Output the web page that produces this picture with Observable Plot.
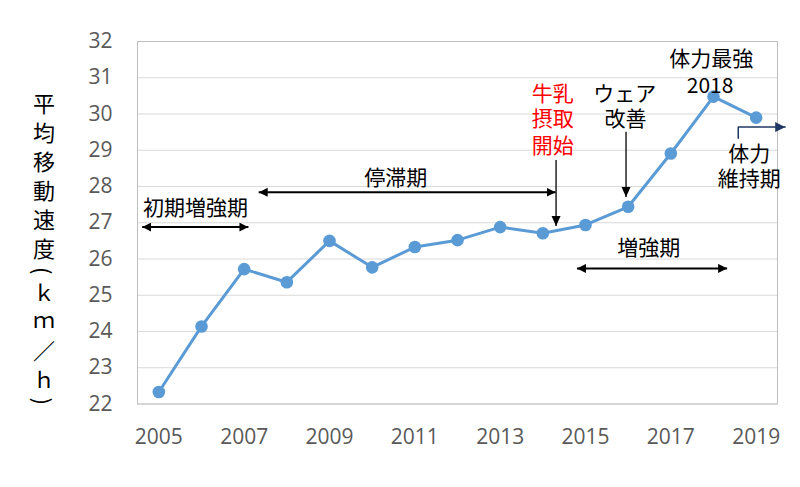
<!DOCTYPE html>
<html><head><meta charset="utf-8">
<script src="https://cdn.jsdelivr.net/npm/d3@7"></script>
<script src="https://cdn.jsdelivr.net/npm/@observablehq/plot@0.6"></script>
<style>
body{margin:0;background:#fff}
#wrap{position:relative;width:800px;height:487px}
#ytitle{position:absolute;left:33px;top:93px;writing-mode:vertical-rl;font-family:"Noto Sans CJK JP",sans-serif;font-size:22px;line-height:22px;letter-spacing:7px;color:#000}
</style></head><body>
<div id="wrap"><div id="ytitle">平均移動速度(ｋｍ／ｈ)</div></div>
<script>
const years = [2005,2006,2007,2008,2009,2010,2011,2012,2013,2014,2015,2016,2017,2018,2019];
const speeds = [22.33,24.14,25.72,25.36,26.5,25.77,26.33,26.52,26.88,26.71,26.94,27.44,28.91,30.48,29.9];
const yTicks = [22,23,24,25,26,27,28,29,30,31,32];
const xTicks = [2005,2007,2009,2011,2013,2015,2017,2019];

const labelTexts = ["初期増強期","停滞期","牛乳","摂取","開始","ウェア","改善","体力最強","2018","体力","維持期","増強期"];
const labelX = [2005.86,2010.55,2014.23,2014.23,2014.23,2015.92,2015.94,2017.95,2017.92,2018.84,2018.84,2016.48];
const labelY = [27.41,28.22,30.55,29.86,29.11,30.55,29.86,31.52,30.76,28.89,28.2,26.3];
const labelColors = ["#000","#000","#ff0000","#ff0000","#ff0000","#000","#000","#000","#000","#000","#000","#000"];

const spanX1 = [2004.61,2007.34,2014.8];
const spanX2 = [2007.1,2014.3,2018.32];
const spanY = [26.88,27.84,25.74];

const downX = [2014.31,2015.95];
const downY1 = [28.73,29.51];
const downY2 = [26.91,27.71];

const elbowX = [2018.58,2018.58,2019.68];
const elbowY = [29.33,29.64,29.64];

const points = years.map((y,i)=>({year:y, speed:speeds[i]}));
const labels = labelTexts.map((t,i)=>({t, x:labelX[i], y:labelY[i], c:labelColors[i]}));
const spans = spanX1.map((x,i)=>({x1:x, x2:spanX2[i], y:spanY[i]}));
const downs = downX.map((x,i)=>({x, y1:downY1[i], y2:downY2[i]}));
const elbow = elbowX.map((x,i)=>({x, y:elbowY[i]}));

function tri(reverse, len, hw){
  return (color) => {
    const ns = "http://www.w3.org/2000/svg";
    const m = document.createElementNS(ns,"marker");
    m.setAttribute("viewBox", `${-len} ${-len/2} ${len} ${len}`);
    m.setAttribute("markerUnits","userSpaceOnUse");
    m.setAttribute("markerWidth", len);
    m.setAttribute("markerHeight", len);
    m.setAttribute("refX", 0);
    m.setAttribute("refY", 0);
    m.setAttribute("orient", reverse ? "auto-start-reverse" : "auto");
    m.setAttribute("fill", color);
    m.setAttribute("stroke", "none");
    const p = document.createElementNS(ns,"path");
    p.setAttribute("d", `M${-len},${-hw}L0,0L${-len},${hw}Z`);
    m.appendChild(p);
    return m;
  };
}

const tickFont = '"Open Sans", sans-serif';
const chart = Plot.plot({
  width: 800, height: 487,
  marginLeft: 137, marginRight: 23, marginTop: 41, marginBottom: 83.5,
  style: {fontFamily: '"Noto Sans CJK JP", sans-serif', background: "#fff", overflow: "visible"},
  x: {domain: [2004.5, 2019.5]},
  y: {domain: [22, 32]},
  marks: [
    Plot.ruleY(yTicks, {stroke: "#d9d9d9", strokeWidth: 1}),
    Plot.frame({stroke: "#bfbfbf"}),
    Plot.axisY({ticks: yTicks, tickSize: 0, tickPadding: 25, fontSize: 21, fontFamily: tickFont, fill: "#595959", label: null, tickFormat: d => String(d)}),
    Plot.axisX({ticks: xTicks, tickSize: 0, tickPadding: 25, fontSize: 21, fontFamily: tickFont, fill: "#595959", label: null, tickFormat: d => String(d)}),
    Plot.line(points, {x: "year", y: "speed", stroke: "#5b9bd5", strokeWidth: 3}),
    Plot.dot(points, {x: "year", y: "speed", r: 6.3, fill: "#5b9bd5"}),
    Plot.link(spans, {x1: "x1", x2: "x2", y1: "y", y2: "y", stroke: "#000", strokeWidth: 2,
      markerStart: tri(true, 9, 4.5), markerEnd: tri(false, 9, 4.5)}),
    Plot.link(downs, {x1: "x", x2: "x", y1: "y1", y2: "y2", stroke: "#000", strokeWidth: 1.3,
      markerEnd: tri(false, 10, 4.5)}),
    Plot.line(elbow, {x: "x", y: "y", stroke: "#1f3864", strokeWidth: 1.5, markerEnd: tri(false, 10, 5)}),
    Plot.text(labels, {x: "x", y: "y", text: "t", fill: "c", fontSize: 21})
  ]
});
document.getElementById("wrap").appendChild(chart);
</script>
</body></html>
